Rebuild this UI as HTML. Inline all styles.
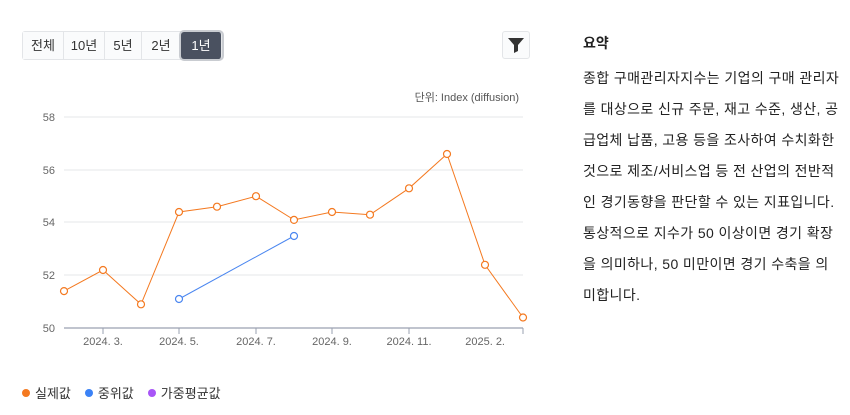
<!DOCTYPE html>
<html><head><meta charset="utf-8"><style>
body{margin:0;width:850px;height:415px;background:#fff;font-family:"Liberation Sans","Noto Sans CJK KR",sans-serif;position:relative;overflow:hidden}
.btns{position:absolute;left:22px;top:31px;display:flex;border:1px solid #e3e5e8;border-radius:3px;height:27px}
.btns div{font-size:13px;color:#333;text-align:center;line-height:27px;border-right:1px solid #e3e5e8;background:#fafbfc}
.btns div.on{background:#4a5160;color:#fff;border-radius:3px;box-shadow:0 0 0 2px #c9ccd1}
.filter{position:absolute;left:502px;top:31px;width:26px;height:26px;border:1px solid #e3e5e8;border-radius:3px;background:#fafbfc}
.side{position:absolute;left:583px;top:33px;width:270px;color:#222}
.side h3{margin:0;font-size:14px;font-weight:bold;line-height:20px}
.side p{position:absolute;top:30px;left:0;margin:0;font-size:14px;line-height:31px;white-space:nowrap;letter-spacing:0.4px}
.legend{position:absolute;left:22px;top:383px;font-size:13px;color:#333;display:flex;gap:14px}
.legend span::before{content:"";display:inline-block;width:8px;height:8px;border-radius:50%;background:var(--c);margin-right:5px;vertical-align:1px}
</style></head><body>
<div class="btns"><div style="width:40px">전체</div><div style="width:40px">10년</div><div style="width:36px">5년</div><div style="width:38px">2년</div><div class="on" style="width:40px">1년</div></div>
<div class="filter"><svg width="26" height="26"><path d="M5 6h16l-6 7v6l-4 2v-8z" fill="#333"/></svg></div>
<svg style="position:absolute;left:0;top:0" width="560" height="380" font-family="Liberation Sans, sans-serif" font-size="11" fill="#666">
<text x="519" y="101" text-anchor="end" fill="#555">단위: Index (diffusion)</text>
<g stroke="#e6e7ea"><line x1="64" x2="523" y1="117" y2="117"/><line x1="64" x2="523" y1="170" y2="170"/><line x1="64" x2="523" y1="222" y2="222"/><line x1="64" x2="523" y1="275" y2="275"/></g>
<line x1="64" x2="523" y1="328" y2="328" stroke="#9aa0b0" stroke-width="1.2"/>
<g text-anchor="end"><text x="55" y="121">58</text><text x="55" y="174">56</text><text x="55" y="226">54</text><text x="55" y="279">52</text><text x="55" y="332">50</text></g>
<g stroke="#9aa0b0"><line x1="103" x2="103" y1="328" y2="334"/><line x1="179" x2="179" y1="328" y2="334"/><line x1="256" x2="256" y1="328" y2="334"/><line x1="332" x2="332" y1="328" y2="334"/><line x1="409" x2="409" y1="328" y2="334"/><line x1="523" x2="523" y1="328" y2="334"/></g>
<g text-anchor="middle"><text x="103" y="345">2024. 3.</text><text x="179" y="345">2024. 5.</text><text x="256" y="345">2024. 7.</text><text x="332" y="345">2024. 9.</text><text x="409" y="345">2024. 11.</text><text x="505" y="345" text-anchor="end">2025. 2.</text></g>
<polyline fill="none" stroke="#f47920" stroke-width="1" points="64,291.1 103,270 141,304.3 179,212 217,206.7 256,196.2 294,219.9 332,212 370,214.7 409,188.3 447,154 485,264.8 523,317.5"/>
<g fill="#fff" stroke="#f47920" stroke-width="1.2"><circle cx="64" cy="291.1" r="3.5"/><circle cx="103" cy="270" r="3.5"/><circle cx="141" cy="304.3" r="3.5"/><circle cx="179" cy="212" r="3.5"/><circle cx="217" cy="206.7" r="3.5"/><circle cx="256" cy="196.2" r="3.5"/><circle cx="294" cy="219.9" r="3.5"/><circle cx="332" cy="212" r="3.5"/><circle cx="370" cy="214.7" r="3.5"/><circle cx="409" cy="188.3" r="3.5"/><circle cx="447" cy="154" r="3.5"/><circle cx="485" cy="264.8" r="3.5"/><circle cx="523" cy="317.5" r="3.5"/></g>
<line x1="179" y1="299" x2="294" y2="236" stroke="#4a86f0"/>
<g fill="#fff" stroke="#4a86f0" stroke-width="1.2"><circle cx="179" cy="299" r="3.5"/><circle cx="294" cy="236" r="3.5"/></g>
</svg>
<div class="legend"><span style="--c:#f47920">실제값</span><span style="--c:#3b82f6">중위값</span><span style="--c:#a855f7">가중평균값</span></div>
<div class="side"><h3>요약</h3><p>종합 구매관리자지수는 기업의 구매 관리자<br>를 대상으로 신규 주문, 재고 수준, 생산, 공<br>급업체 납품, 고용 등을 조사하여 수치화한<br>것으로 제조/서비스업 등 전 산업의 전반적<br>인 경기동향을 판단할 수 있는 지표입니다.<br>통상적으로 지수가 50 이상이면 경기 확장<br>을 의미하나, 50 미만이면 경기 수축을 의<br>미합니다.</p></div>
</body></html>
